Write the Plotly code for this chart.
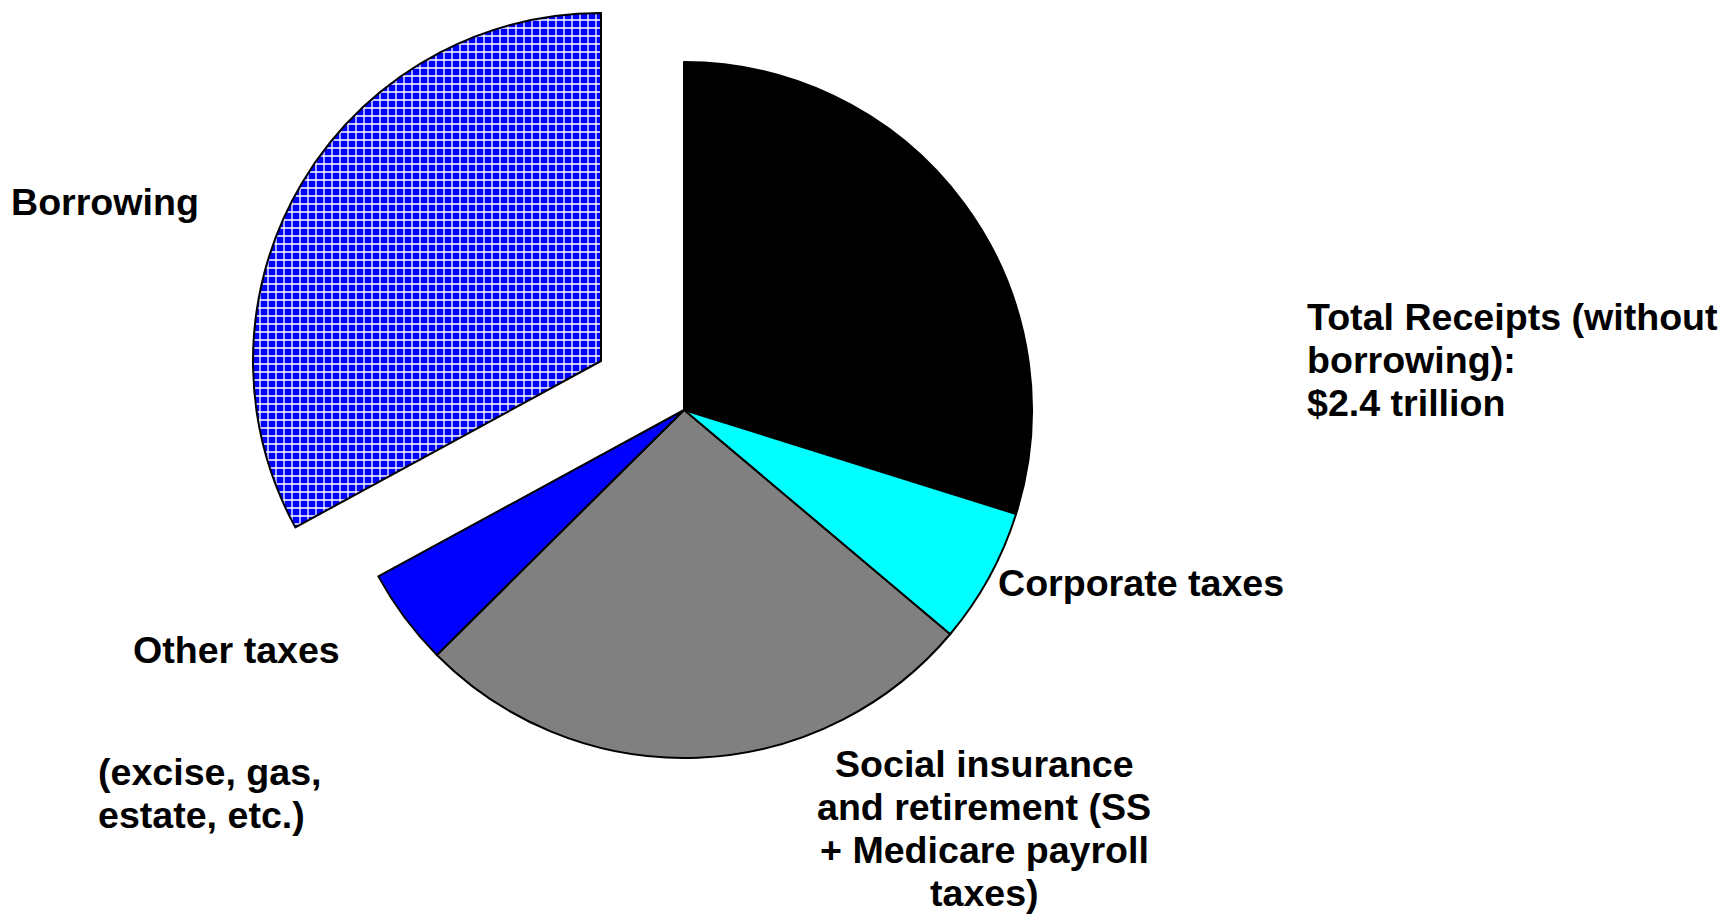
import plotly.graph_objects as go

W, H = 1727, 915

# federal receipts, billions of dollars
labels = ["Individual income taxes", "Corporate taxes",
          "Social insurance and retirement", "Other taxes", "Borrowing"]
values = [1068, 226, 946, 161, 1179]
colors = ["#000000", "#00ffff", "#808080", "#0000ff", "rgba(0,0,0,0)"]

borrowing_lines = ["Borrowing"]
total_lines = ["Total Receipts (without", "borrowing):", "$2.4 trillion"]
corporate_lines = ["Corporate taxes"]
social_lines = ["Social insurance", "and retirement (SS", "+ Medicare payroll", "taxes)"]
other_lines = ["Other taxes"]
other_note_lines = ["(excise, gas,", "estate, etc.)"]


def px_dom(cx, cy, r):
    return dict(x=[(cx - r) / W, (cx + r) / W], y=[1 - (cy + r) / H, 1 - (cy - r) / H])


fig = go.Figure()

# main pie, borrowing slice left empty
fig.add_trace(go.Pie(
    labels=labels, values=values, sort=False, direction="clockwise", rotation=0,
    textinfo="none", hoverinfo="label+value", showlegend=False,
    marker=dict(colors=colors, line=dict(color="black", width=[2, 2, 2, 2, 0])),
    domain=px_dom(676, 402, 348),
))

# exploded borrowing slice, same pie shifted out
fig.add_trace(go.Pie(
    labels=labels, values=values, sort=False, direction="clockwise", rotation=0,
    textinfo="none", hoverinfo="label+value", showlegend=False,
    marker=dict(
        colors=["rgba(0,0,0,0)"] * 4 + ["#0000ff"],
        line=dict(color="black", width=[0, 0, 0, 0, 2]),
        pattern=dict(shape=["", "", "", "", "+"], fillmode="replace",
                     bgcolor="#0000ff", fgcolor="white", size=8, solidity=0.3),
    ),
    domain=px_dom(593, 353, 348),
))

font = dict(family="Liberation Sans, Arial, sans-serif", size=37.6, color="black", weight="bold")


def add_lines(lines, x, first_mid, step, anchor):
    for i, t in enumerate(lines):
        mid = first_mid + i * step
        fig.add_annotation(text=t, x=x / W, y=1 - mid / H, xref="paper", yref="paper",
                           xanchor=anchor, yanchor="middle", showarrow=False, font=font)


add_lines(borrowing_lines, 1, 194, 43, "left")
add_lines(total_lines, 1297, 309, 43, "left")
add_lines(corporate_lines, 988, 575, 43, "left")
add_lines(social_lines, 976, 756, 43, "center")
add_lines(other_lines, 228, 642, 43, "center")
add_lines(other_note_lines, 88, 764, 43, "left")

fig.update_layout(width=W, height=H, margin=dict(l=0, r=0, t=0, b=0),
                  paper_bgcolor="white", plot_bgcolor="white")

fig.write_html("out.html")
